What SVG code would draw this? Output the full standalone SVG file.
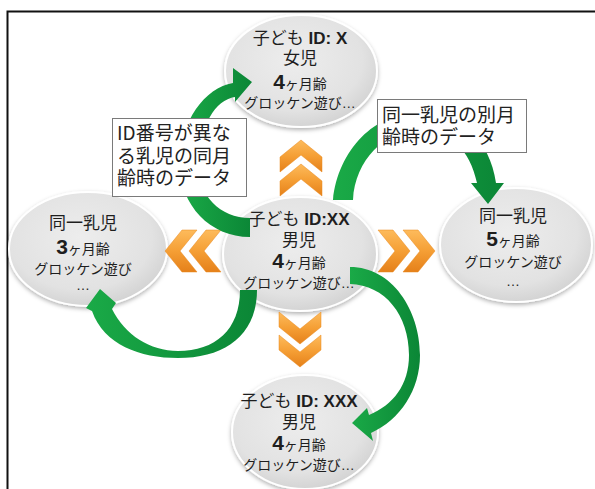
<svg xmlns="http://www.w3.org/2000/svg" width="595" height="489" viewBox="0 0 595 489">
<defs>
<style>
.el{fill:url(#gEl);stroke:#ffffff;stroke-width:2;filter:url(#sh)}
.t{font-family:"Liberation Sans","Noto Sans CJK JP",sans-serif;fill:#1e1e1e;text-anchor:middle}
.t1{font-size:17px}
.t3{font-size:14px}
.b{font-weight:bold}
.n{font-weight:bold;font-size:21px}
.k{font-size:14px}
.arc{fill:url(#gGr)}
.chev{fill:url(#gOr);stroke:#e9891f;stroke-width:0.5}
.box{fill:#ffffff;stroke:#7a7a7a;stroke-width:1}
.bt{font-family:"Noto Sans CJK JP","Liberation Sans",sans-serif;font-size:19px;fill:#222}
</style>
<radialGradient id="gEl" cx="0.45" cy="0.4" r="0.65">
<stop offset="0" stop-color="#ededed"/>
<stop offset="0.7" stop-color="#e2e2e2"/>
<stop offset="1" stop-color="#cfcfcf"/>
</radialGradient>
<linearGradient id="gGr" x1="0" y1="0" x2="1" y2="0">
<stop offset="0" stop-color="#1aaa47"/>
<stop offset="1" stop-color="#0b8636"/>
</linearGradient>
<linearGradient id="gOr" x1="0" y1="0" x2="0" y2="1">
<stop offset="0" stop-color="#fdbb5c"/>
<stop offset="0.5" stop-color="#f59f35"/>
<stop offset="1" stop-color="#e5801a"/>
</linearGradient>
<filter id="sh" x="-10%" y="-10%" width="120%" height="125%">
<feDropShadow dx="0" dy="2" stdDeviation="2" flood-color="#000" flood-opacity="0.3"/>
</filter>
</defs>

<path id="frame" d="M7.5,489 V11.5 H595" fill="none" stroke="#111" stroke-width="2"/>

<g id="node-top">
<ellipse class="el" cx="301" cy="71" rx="76" ry="56"/>
<text class="t t1" x="300" y="44">子ども <tspan class="b">ID: X</tspan></text>
<text class="t t1" x="300" y="64">女児</text>
<text class="t" x="300" y="89"><tspan class="n">4</tspan><tspan class="k">ヶ月齢</tspan></text>
<text class="t t3" x="300" y="108">グロッケン遊び…</text>
</g>

<g id="node-center">
<ellipse class="el" cx="300" cy="254" rx="77" ry="57"/>
<text class="t t1" x="299" y="225">子ども <tspan class="b">ID:XX</tspan></text>
<text class="t t1" x="299" y="246">男児</text>
<text class="t" x="299" y="268"><tspan class="n">4</tspan><tspan class="k">ヶ月齢</tspan></text>
<text class="t t3" x="299" y="288">グロッケン遊び…</text>
</g>

<g id="node-left">
<ellipse class="el" cx="88" cy="249" rx="79" ry="57"/>
<text class="t t1" x="83" y="229">同一乳児</text>
<text class="t" x="83" y="254"><tspan class="n">3</tspan><tspan class="k">ヶ月齢</tspan></text>
<text class="t t3" x="83" y="274">グロッケン遊び</text>
<text class="t t3" x="83" y="290">…</text>
</g>

<g id="node-right">
<ellipse class="el" cx="516" cy="245" rx="76" ry="57"/>
<text class="t t1" x="513" y="222">同一乳児</text>
<text class="t" x="513" y="246"><tspan class="n">5</tspan><tspan class="k">ヶ月齢</tspan></text>
<text class="t t3" x="513" y="267">グロッケン遊び</text>
<text class="t t3" x="513" y="286">…</text>
</g>

<g id="node-bottom">
<ellipse class="el" cx="305" cy="432" rx="73" ry="57"/>
<text class="t t1" x="299" y="407">子ども <tspan class="b">ID: XXX</tspan></text>
<text class="t t1" x="299" y="428">男児</text>
<text class="t" x="299" y="450"><tspan class="n">4</tspan><tspan class="k">ヶ月齢</tspan></text>
<text class="t t3" x="299" y="470">グロッケン遊び…</text>
</g>

<g id="chevrons">
<polygon class="chev" transform="translate(280,140)" points="0,32 0,17 21,0 42,17 42,32 21,15"/>
<polygon class="chev" transform="translate(280,164)" points="0,32 0,17 21,0 42,17 42,32 21,15"/>
<polygon class="chev" transform="translate(279,312)" points="0,0 0,15 21,32 42,15 42,0 21,17"/>
<polygon class="chev" transform="translate(279,335)" points="0,0 0,15 21,32 42,15 42,0 21,17"/>
<polygon class="chev" transform="translate(165,230)" points="32,0 17,0 0,21 17,42 32,42 15,21"/>
<polygon class="chev" transform="translate(189,230)" points="32,0 17,0 0,21 17,42 32,42 15,21"/>
<polygon class="chev" transform="translate(378,230)" points="0,0 15,0 32,21 15,42 0,42 17,21"/>
<polygon class="chev" transform="translate(403,230)" points="0,0 15,0 32,21 15,42 0,42 17,21"/>
</g>

<g id="connectors">
<path class="arc" d="M250,237 C210,237 180,205 180,165 C180,120 205,88 233,83 L233,68 L252,82 L235,102 L235,97 C215,100 200,125 198,165 C198,195 220,218 250,218 Z"/>
<path class="arc" d="M333,200 C338,150 375,112 420,112 C460,112 490,140 496,183 L504,183 L488,204 L471,183 L477,183 C470,150 450,130 420,130 C385,130 355,160 353,200 Z"/>
<path class="arc" d="M257,290 C257,335 225,358 178,358 C140,358 104,345 92,311 L86,308 L100,289 L116,303 L112,309 C125,335 150,351 178,351 C215,351 240,330 240,290 Z"/>
<path class="arc" d="M350,267 C392,267 420,310 420,355 C420,390 400,420 371,433 L373,441 L352,423 L367,408 L369,415 C393,405 409,385 409,355 C409,315 385,285 350,284 Z"/>
</g>

<g id="label-left">
<rect class="box" x="112.5" y="118.5" width="134" height="78"/>
<text class="bt" x="117" y="140">ID番号が異な</text>
<text class="bt" x="117" y="163">る乳児の同月</text>
<text class="bt" x="117" y="185">齢時のデータ</text>
</g>

<g id="label-right">
<rect class="box" x="377.5" y="99.5" width="149" height="53"/>
<text class="bt" x="382" y="122">同一乳児の別月</text>
<text class="bt" x="382" y="144">齢時のデータ</text>
</g>
</svg>
